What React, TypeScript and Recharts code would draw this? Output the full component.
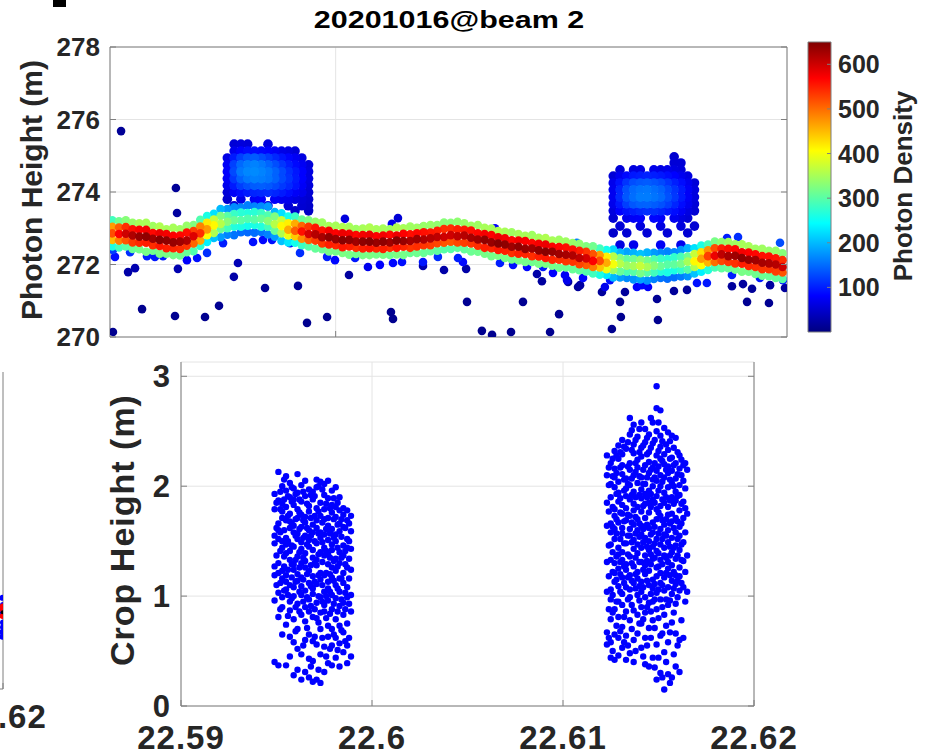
import React from 'react';
import {
  ScatterChart, Scatter, XAxis, YAxis, CartesianGrid,
  ReferenceArea, ReferenceLine,
} from 'recharts';

const FONT = "'Liberation Sans', Arial, Helvetica, sans-serif";
const INK = '#262626';
const FRAME = '#7f7f7f';
const GRID = '#e4e4e4';
const CROP_BLUE = '#0000ff';

// ---- top panel: photons coloured by photon density ----
const photonTicks = [270, 272, 274, 276, 278];
const topLatTicks = [22.6];
const densityTicks = [100, 200, 300, 400, 500, 600];
const DENSITY_MAX = 650;

const groundLat = [
  22.5901, 22.5904, 22.5907, 22.5910, 22.5913, 22.5916, 22.5919, 22.5922, 22.5925, 22.5928,
  22.5931, 22.5934, 22.5937, 22.5940, 22.5943, 22.5946, 22.5949, 22.5952, 22.5955, 22.5958,
  22.5961, 22.5964, 22.5967, 22.5970, 22.5973, 22.5976, 22.5979, 22.5982, 22.5985, 22.5988,
  22.5991, 22.5994, 22.5997, 22.6000, 22.6003, 22.6006, 22.6009, 22.6012, 22.6015, 22.6018,
  22.6021, 22.6024, 22.6027, 22.6030, 22.6033, 22.6036, 22.6039, 22.6042, 22.6045, 22.6048,
  22.6051, 22.6054, 22.6057, 22.6060, 22.6063, 22.6066, 22.6069, 22.6072, 22.6075, 22.6078,
  22.6081, 22.6084, 22.6087, 22.6090, 22.6093, 22.6096, 22.6099, 22.6102, 22.6105, 22.6108,
  22.6111, 22.6114, 22.6117, 22.6120, 22.6123, 22.6126, 22.6129, 22.6132, 22.6135, 22.6138,
  22.6141, 22.6144, 22.6147, 22.6150, 22.6153, 22.6156, 22.6159, 22.6162, 22.6165, 22.6168,
  22.6171, 22.6174, 22.6177, 22.6180, 22.6183, 22.6186, 22.6189, 22.6192, 22.6195, 22.6198,
];

// ground band, five layers from top edge to bottom edge
const bandTopH = [
  273.22, 273.19, 273.22, 273.15, 273.14, 273.15, 273.06, 273.05, 272.97, 273.01,
  272.97, 273.07, 273.09, 273.23, 273.34, 273.40, 273.53, 273.53, 273.58, 273.57,
  273.63, 273.60, 273.60, 273.60, 273.45, 273.41, 273.32, 273.32, 273.24, 273.22,
  273.18, 273.16, 273.06, 273.07, 273.03, 273.04, 272.98, 272.99, 273.02, 272.97,
  272.99, 272.97, 273.02, 273.00, 273.05, 273.01, 273.06, 273.09, 273.09, 273.16,
  273.15, 273.18, 273.14, 273.07, 273.09, 273.01, 272.99, 272.92, 272.90, 272.89,
  272.84, 272.79, 272.81, 272.74, 272.73, 272.66, 272.68, 272.63, 272.59, 272.57,
  272.50, 272.50, 272.44, 272.40, 272.41, 272.33, 272.35, 272.32, 272.29, 272.33,
  272.32, 272.32, 272.36, 272.34, 272.40, 272.45, 272.45, 272.52, 272.55, 272.63,
  272.62, 272.62, 272.56, 272.56, 272.50, 272.43, 272.43, 272.38, 272.38, 272.31,
];
const bandTopD = [
  285, 315, 330, 340, 350, 350, 345, 355, 350, 350,
  345, 340, 325, 295, 260, 225, 200, 180, 170, 165,
  162, 165, 170, 180, 200, 225, 255, 280, 310, 325,
  340, 345, 350, 350, 355, 350, 345, 350, 355, 350,
  350, 345, 355, 350, 345, 345, 340, 340, 335, 330,
  330, 335, 340, 345, 345, 350, 350, 355, 350, 345,
  350, 350, 345, 350, 355, 350, 345, 345, 340, 335,
  325, 315, 285, 255, 220, 200, 185, 195, 205, 195,
  180, 170, 165, 170, 175, 195, 225, 260, 290, 320,
  335, 345, 345, 350, 350, 345, 345, 340, 340, 330,
];
const bandUpH = [
  273.04, 273.02, 273.03, 272.97, 272.96, 272.96, 272.87, 272.86, 272.84, 272.79,
  272.80, 272.88, 272.92, 273.05, 273.15, 273.24, 273.34, 273.34, 273.39, 273.43,
  273.42, 273.45, 273.42, 273.36, 273.32, 273.22, 273.14, 273.12, 273.06, 273.04,
  273.01, 272.94, 272.93, 272.86, 272.86, 272.85, 272.81, 272.81, 272.82, 272.78,
  272.80, 272.82, 272.80, 272.85, 272.83, 272.86, 272.89, 272.88, 272.93, 272.98,
  272.99, 272.97, 272.96, 272.94, 272.86, 272.84, 272.81, 272.75, 272.72, 272.67,
  272.66, 272.65, 272.59, 272.57, 272.55, 272.49, 272.48, 272.47, 272.41, 272.38,
  272.35, 272.29, 272.26, 272.21, 272.22, 272.18, 272.15, 272.15, 272.13, 272.11,
  272.14, 272.16, 272.15, 272.20, 272.21, 272.22, 272.29, 272.34, 272.39, 272.45,
  272.44, 272.43, 272.42, 272.34, 272.33, 272.28, 272.23, 272.22, 272.17, 272.12,
];
const bandUpD = [
  470, 510, 540, 560, 570, 575, 565, 580, 575, 570,
  565, 560, 530, 485, 420, 370, 325, 300, 280, 270,
  265, 270, 280, 295, 325, 370, 415, 460, 505, 535,
  555, 560, 575, 570, 580, 575, 565, 575, 580, 570,
  575, 565, 580, 570, 560, 565, 560, 555, 550, 540,
  540, 550, 555, 560, 565, 575, 570, 580, 575, 565,
  575, 570, 565, 575, 580, 570, 565, 560, 560, 550,
  535, 515, 470, 415, 360, 325, 305, 315, 335, 315,
  295, 280, 270, 275, 290, 315, 370, 425, 475, 520,
  550, 560, 565, 575, 570, 565, 560, 560, 555, 540,
];
const bandMidH = [
  272.86, 272.84, 272.85, 272.80, 272.77, 272.77, 272.71, 272.68, 272.66, 272.61,
  272.63, 272.66, 272.78, 272.86, 272.97, 273.08, 273.12, 273.18, 273.22, 273.22,
  273.26, 273.24, 273.26, 273.20, 273.11, 273.06, 272.96, 272.93, 272.91, 272.84,
  272.83, 272.75, 272.75, 272.70, 272.67, 272.68, 272.63, 272.63, 272.63, 272.60,
  272.63, 272.61, 272.66, 272.65, 272.65, 272.70, 272.69, 272.72, 272.76, 272.76,
  272.81, 272.78, 272.80, 272.74, 272.69, 272.68, 272.61, 272.58, 272.55, 272.49,
  272.49, 272.43, 272.44, 272.39, 272.35, 272.35, 272.29, 272.27, 272.25, 272.18,
  272.17, 272.10, 272.10, 272.05, 272.01, 272.02, 271.97, 271.96, 271.96, 271.93,
  271.97, 271.95, 272.00, 272.00, 272.02, 272.08, 272.09, 272.16, 272.23, 272.24,
  272.28, 272.23, 272.24, 272.18, 272.13, 272.12, 272.05, 272.03, 272.00, 271.93,
];
const bandMidD = [
  520, 570, 600, 620, 635, 640, 630, 645, 640, 635,
  630, 620, 590, 540, 470, 410, 360, 330, 310, 300,
  295, 300, 310, 330, 360, 410, 460, 510, 560, 595,
  615, 625, 640, 635, 645, 640, 630, 640, 645, 635,
  640, 630, 645, 635, 625, 630, 620, 615, 610, 600,
  600, 610, 615, 625, 630, 640, 635, 645, 640, 630,
  640, 635, 630, 640, 645, 635, 630, 625, 620, 610,
  595, 570, 520, 460, 400, 360, 340, 350, 370, 350,
  330, 310, 300, 305, 320, 350, 410, 470, 530, 580,
  610, 625, 630, 640, 635, 630, 625, 620, 615, 600,
];
const bandLowH = [
  272.68, 272.66, 272.67, 272.61, 272.60, 272.60, 272.53, 272.51, 272.45, 272.45,
  272.43, 272.52, 272.58, 272.66, 272.81, 272.87, 272.98, 273.00, 273.04, 273.04,
  273.07, 273.09, 273.04, 273.04, 272.93, 272.86, 272.80, 272.78, 272.71, 272.68,
  272.66, 272.58, 272.55, 272.53, 272.48, 272.50, 272.46, 272.44, 272.45, 272.44,
  272.43, 272.46, 272.46, 272.49, 272.46, 272.50, 272.53, 272.53, 272.59, 272.60,
  272.63, 272.61, 272.60, 272.58, 272.52, 272.46, 272.45, 272.40, 272.38, 272.32,
  272.30, 272.29, 272.23, 272.22, 272.18, 272.13, 272.13, 272.09, 272.08, 272.01,
  271.99, 271.93, 271.92, 271.87, 271.85, 271.81, 271.80, 271.80, 271.76, 271.78,
  271.78, 271.80, 271.79, 271.84, 271.85, 271.86, 271.93, 271.98, 272.06, 272.07,
  272.10, 272.07, 272.03, 272.02, 271.96, 271.93, 271.87, 271.87, 271.81, 271.78,
];
const bandLowD = [
  450, 490, 515, 535, 545, 550, 540, 555, 550, 545,
  540, 535, 505, 465, 405, 355, 310, 285, 265, 260,
  255, 260, 265, 285, 310, 355, 395, 440, 480, 510,
  530, 535, 550, 545, 555, 550, 540, 550, 555, 545,
  550, 540, 555, 545, 535, 540, 535, 530, 525, 515,
  515, 525, 530, 535, 540, 550, 545, 555, 550, 540,
  550, 545, 540, 550, 555, 545, 540, 535, 535, 525,
  510, 490, 445, 395, 345, 310, 290, 300, 320, 300,
  285, 265, 260, 260, 275, 300, 355, 405, 455, 500,
  525, 535, 540, 550, 545, 540, 535, 535, 530, 515,
];
const bandBotH = [
  272.50, 272.47, 272.50, 272.43, 272.42, 272.35, 272.38, 272.30, 272.30, 272.26,
  272.25, 272.34, 272.37, 272.51, 272.62, 272.73, 272.75, 272.82, 272.81, 272.89,
  272.89, 272.88, 272.90, 272.83, 272.77, 272.65, 272.61, 272.60, 272.53, 272.50,
  272.44, 272.42, 272.36, 272.36, 272.32, 272.27, 272.29, 272.26, 272.26, 272.28,
  272.27, 272.26, 272.28, 272.26, 272.32, 272.32, 272.32, 272.37, 272.38, 272.42,
  272.43, 272.46, 272.42, 272.36, 272.35, 272.30, 272.23, 272.24, 272.18, 272.14,
  272.12, 272.07, 272.07, 272.02, 272.02, 271.97, 271.91, 271.92, 271.87, 271.84,
  271.81, 271.75, 271.72, 271.71, 271.64, 271.64, 271.63, 271.59, 271.59, 271.56,
  271.60, 271.63, 271.61, 271.65, 271.67, 271.68, 271.75, 271.80, 271.85, 271.92,
  271.90, 271.90, 271.86, 271.80, 271.80, 271.74, 271.69, 271.68, 271.63, 271.60,
];
const bandBotD = [
  260, 285, 300, 310, 318, 320, 315, 322, 320, 318,
  315, 310, 295, 270, 235, 205, 180, 165, 155, 150,
  148, 150, 155, 165, 180, 205, 230, 255, 280, 298,
  308, 312, 320, 318, 322, 320, 315, 320, 322, 318,
  320, 315, 322, 318, 312, 315, 310, 308, 305, 300,
  300, 305, 308, 312, 315, 320, 318, 322, 320, 315,
  320, 318, 315, 320, 322, 318, 315, 312, 310, 305,
  298, 285, 260, 230, 200, 180, 170, 175, 185, 175,
  165, 155, 150, 152, 160, 175, 205, 235, 265, 290,
  305, 312, 315, 320, 318, 315, 312, 310, 308, 300,
];

// canopy photons: density per (height row, lat column), 0 = no photon
const tree1Lat = [22.5952, 22.5955, 22.5958, 22.5961, 22.5964, 22.5967, 22.5970, 22.5973, 22.5976, 22.5979, 22.5982, 22.5985, 22.5988];
const tree1H = [275.32, 275.13, 274.94, 274.75, 274.56, 274.37, 274.18, 273.99, 273.80, 273.62, 273.48];
const tree1D = [
  [0, 55, 58, 56, 0, 0, 60, 0, 0, 0, 0, 0, 0],
  [0, 70, 82, 88, 88, 85, 82, 76, 66, 62, 56, 0, 0],
  [64, 97, 122, 136, 140, 130, 118, 106, 94, 84, 75, 62, 0],
  [76, 122, 148, 160, 164, 158, 145, 130, 115, 99, 86, 74, 58],
  [80, 128, 157, 167, 169, 165, 157, 144, 128, 110, 95, 81, 62],
  [76, 116, 143, 157, 162, 160, 155, 144, 128, 113, 97, 81, 62],
  [69, 97, 120, 132, 139, 141, 137, 128, 117, 106, 93, 77, 58],
  [56, 77, 88, 97, 104, 107, 109, 104, 97, 88, 77, 69, 53],
  [50, 0, 65, 0, 76, 81, 0, 77, 72, 69, 62, 56, 50],
  [0, 53, 0, 0, 56, 0, 60, 0, 0, 56, 0, 53, 48],
  [0, 0, 0, 0, 0, 0, 0, 0, 0, 0, 48, 0, 44],
];
const tree2Lat = [22.6123, 22.6126, 22.6129, 22.6132, 22.6135, 22.6138, 22.6141, 22.6144, 22.6147, 22.6150, 22.6153, 22.6156, 22.6159];
const tree2H = [274.97, 274.80, 274.61, 274.44, 274.25, 274.06, 273.86, 273.67, 273.48, 273.28, 273.06, 272.87, 272.54];
const tree2D = [
  [0, 0, 0, 0, 0, 0, 0, 0, 0, 51, 0, 0, 0],
  [0, 0, 0, 0, 0, 0, 0, 0, 0, 55, 56, 0, 0],
  [0, 56, 0, 60, 63, 0, 67, 63, 67, 62, 58, 0, 0],
  [56, 72, 86, 95, 99, 102, 99, 95, 88, 81, 72, 62, 0],
  [69, 92, 114, 130, 137, 139, 134, 127, 114, 100, 88, 72, 56],
  [72, 104, 132, 148, 155, 157, 151, 143, 128, 113, 97, 77, 60],
  [72, 107, 136, 151, 160, 160, 155, 148, 132, 116, 97, 77, 60],
  [69, 95, 120, 136, 143, 144, 139, 132, 120, 104, 88, 72, 56],
  [60, 81, 92, 100, 107, 111, 111, 104, 95, 88, 76, 63, 53],
  [53, 0, 69, 76, 79, 0, 84, 79, 0, 72, 63, 56, 0],
  [0, 56, 0, 0, 60, 0, 0, 63, 0, 0, 60, 0, 53],
  [48, 0, 53, 0, 0, 56, 0, 0, 56, 0, 0, 53, 0],
  [0, 63, 0, 70, 0, 0, 0, 75, 0, 0, 70, 0, 0],
];

// scattered noise photons and band fringe: [lat, height, density]
const sparsePhotons = [
  [22.59049, 275.68, 15], [22.59013, 270.14, 10], [22.59292, 274.11, 15], [22.59297, 273.42, 20],
  [22.59142, 270.77, 10], [22.59288, 270.58, 10], [22.59421, 270.55, 10], [22.59483, 270.86, 12],
  [22.59080, 271.79, 25], [22.59111, 271.90, 30], [22.59301, 271.88, 30], [22.59567, 272.04, 35],
  [22.59549, 271.66, 25], [22.59687, 271.35, 15], [22.59833, 271.41, 15], [22.59873, 270.39, 10],
  [22.59962, 270.55, 10], [22.60059, 271.71, 20], [22.60245, 270.69, 10], [22.60254, 270.50, 10],
  [22.60582, 270.97, 12], [22.60648, 270.17, 10], [22.60693, 270.06, 10], [22.60777, 270.14, 10],
  [22.60830, 270.97, 12], [22.60950, 270.14, 10], [22.60990, 270.63, 12], [22.60480, 271.85, 25],
  [22.60387, 271.96, 30], [22.60578, 271.88, 25], [22.60892, 271.74, 25], [22.60914, 271.54, 20],
  [22.61030, 271.52, 20], [22.61074, 271.38, 18], [22.61224, 270.22, 10], [22.61264, 270.55, 10],
  [22.61260, 270.97, 12], [22.61424, 271.05, 14], [22.61428, 270.47, 10], [22.61499, 271.27, 16],
  [22.61557, 271.30, 16], [22.61823, 270.97, 12], [22.61920, 270.94, 12], [22.61756, 271.40, 18],
  [22.61805, 271.46, 20], [22.61845, 271.33, 16], [22.61925, 271.43, 20], [22.61991, 271.35, 18],
  [22.61083, 271.43, 22], [22.61180, 271.24, 18], [22.61282, 271.24, 18],
  [22.60041, 273.26, 60], [22.60276, 273.28, 55], [22.60249, 273.12, 70], [22.60387, 273.03, 90],
  [22.60706, 273.00, 80], [22.61734, 272.73, 100], [22.61783, 272.76, 110], [22.61969, 272.60, 130],
  [22.61069, 272.60, 160],
  [22.59013, 272.40, 120], [22.59022, 272.21, 90], [22.59089, 272.34, 110], [22.59164, 272.23, 100],
  [22.59199, 272.21, 95], [22.59235, 272.23, 100], [22.59341, 272.12, 80], [22.59386, 272.18, 90],
  [22.59430, 272.32, 110], [22.59501, 272.59, 100], [22.59634, 272.62, 90], [22.59678, 272.68, 85],
  [22.59718, 272.68, 90], [22.59798, 272.59, 100], [22.59842, 272.32, 110], [22.59962, 272.21, 100],
  [22.59997, 272.12, 85], [22.60086, 272.18, 95], [22.60143, 271.93, 70], [22.60196, 271.99, 80],
  [22.60254, 272.04, 85], [22.60294, 272.07, 90], [22.60387, 272.07, 95], [22.60453, 272.21, 110],
  [22.60542, 272.18, 100], [22.60564, 272.07, 85], [22.60728, 272.04, 100], [22.60786, 271.99, 90],
  [22.60848, 271.93, 85], [22.60919, 271.93, 95], [22.60963, 271.77, 80], [22.61016, 271.71, 75],
  [22.61025, 271.57, 70], [22.61096, 271.63, 85], [22.61193, 271.38, 70], [22.61216, 271.57, 90],
  [22.61335, 271.38, 80], [22.61357, 271.43, 85], [22.61384, 271.38, 80], [22.61601, 271.49, 90],
  [22.61645, 271.49, 95], [22.61756, 271.71, 100], [22.61880, 271.63, 95], [22.61982, 271.57, 100],
];

// ---- bottom panel: crop height ----
const cropTicks = [0, 1, 2, 3];
const latTicks = [22.59, 22.6, 22.61, 22.62];
const crop1Lat = [22.5949, 22.5951, 22.5953, 22.5955, 22.5957, 22.5959, 22.5961, 22.5963, 22.5965, 22.5967, 22.5969,
  22.5971, 22.5973, 22.5975, 22.5977, 22.5979, 22.5981, 22.5983, 22.5985, 22.5987, 22.5989];
const crop1H = [
  [0.40, 0.96, 1.19, 1.27, 1.48, 1.55, 1.79, 1.93],
  [0.37, 0.81, 1.03, 1.21, 1.30, 1.52, 1.60, 1.66, 1.87, 2.13],
  [0.65, 0.90, 0.99, 1.16, 1.23, 1.44, 1.50, 1.71, 1.77, 1.84, 2.00],
  [0.37, 0.74, 1.06, 1.13, 1.19, 1.39, 1.47, 1.53, 1.69, 1.81, 1.96, 2.09],
  [0.45, 0.63, 0.87, 0.95, 1.10, 1.33, 1.41, 1.62, 1.68, 1.75, 1.90, 2.03],
  [0.28, 0.58, 0.79, 1.00, 1.08, 1.24, 1.29, 1.45, 1.58, 1.64, 1.83, 1.88, 1.98],
  [0.33, 0.52, 0.70, 0.93, 1.14, 1.20, 1.36, 1.52, 1.57, 1.71, 1.79, 1.94, 2.11],
  [0.24, 0.47, 0.83, 1.01, 1.09, 1.17, 1.30, 1.43, 1.49, 1.63, 1.74, 1.86, 2.01],
  [0.31, 0.60, 0.77, 0.90, 1.05, 1.26, 1.32, 1.39, 1.55, 1.67, 1.72, 1.91, 2.05],
  [0.26, 0.43, 0.65, 0.86, 0.97, 1.12, 1.23, 1.45, 1.51, 1.60, 1.77, 1.82, 1.97],
  [0.22, 0.41, 0.59, 0.81, 1.02, 1.07, 1.18, 1.35, 1.42, 1.58, 1.65, 1.88, 1.95],
  [0.24, 0.56, 0.80, 0.94, 1.11, 1.28, 1.33, 1.48, 1.62, 1.69, 1.80, 1.99, 2.06],
  [0.21, 0.47, 0.70, 0.85, 0.99, 1.15, 1.21, 1.40, 1.53, 1.58, 1.73, 1.85, 2.04],
  [0.31, 0.54, 0.86, 0.92, 1.04, 1.19, 1.37, 1.44, 1.56, 1.70, 1.79, 1.92, 2.02],
  [0.39, 0.63, 0.73, 0.96, 1.07, 1.13, 1.29, 1.38, 1.51, 1.64, 1.71, 1.89, 2.05],
  [0.37, 0.55, 0.70, 0.88, 1.01, 1.17, 1.26, 1.42, 1.47, 1.61, 1.76, 1.83, 1.96],
  [0.44, 0.62, 0.79, 0.98, 1.10, 1.23, 1.34, 1.50, 1.56, 1.72, 1.81, 1.99],
  [0.36, 0.57, 0.73, 0.91, 1.04, 1.16, 1.30, 1.40, 1.59, 1.66, 1.78, 1.90],
  [0.49, 0.67, 0.83, 0.94, 1.12, 1.21, 1.37, 1.46, 1.63, 1.74, 1.80],
  [0.39, 0.55, 0.75, 0.99, 1.08, 1.26, 1.44, 1.52, 1.69, 1.78],
  [0.45, 0.86, 1.01, 1.24, 1.43, 1.59, 1.73],
];
const crop1bLat = [22.5950, 22.5952, 22.5954, 22.5956, 22.5958, 22.5960, 22.5962, 22.5964, 22.5966, 22.5968,
  22.5970, 22.5972, 22.5974, 22.5976, 22.5978, 22.5980, 22.5982, 22.5984, 22.5986, 22.5988];
const crop1bH = [
  [1.10, 1.37, 1.62, 1.85],
  [0.88, 1.12, 1.41, 1.58, 1.79, 1.95],
  [1.05, 1.27, 1.36, 1.60, 1.88, 2.06],
  [0.82, 1.01, 1.24, 1.50, 1.73, 1.91],
  [0.98, 1.17, 1.29, 1.46, 1.66, 1.86, 1.99],
  [0.68, 0.90, 1.13, 1.33, 1.55, 1.70, 1.93],
  [0.86, 1.04, 1.26, 1.40, 1.61, 1.76, 1.88],
  [0.55, 0.95, 1.15, 1.35, 1.53, 1.69, 1.95],
  [0.71, 0.99, 1.20, 1.47, 1.62, 1.84],
  [0.36, 0.91, 1.09, 1.28, 1.55, 1.71, 1.92],
  [0.63, 0.88, 1.13, 1.30, 1.50, 1.73, 1.91],
  [0.33, 0.76, 1.00, 1.19, 1.38, 1.57, 1.77, 2.00],
  [0.62, 0.95, 1.10, 1.31, 1.49, 1.67, 1.97],
  [0.45, 0.80, 1.00, 1.21, 1.41, 1.61, 1.84],
  [0.52, 0.84, 1.04, 1.20, 1.35, 1.57, 1.80],
  [0.65, 0.93, 1.14, 1.32, 1.53, 1.70, 1.89],
  [0.51, 0.86, 1.07, 1.27, 1.44, 1.65, 1.85],
  [0.69, 0.97, 1.16, 1.35, 1.54, 1.70],
  [0.59, 0.88, 1.03, 1.29, 1.41, 1.62],
  [0.62, 0.93, 1.16, 1.34, 1.50, 1.66],
];
const crop2Lat = [22.6123, 22.6125, 22.6127, 22.6129, 22.6131, 22.6133, 22.6135, 22.6137, 22.6139, 22.6141, 22.6143,
  22.6145, 22.6147, 22.6149, 22.6151, 22.6153, 22.6155, 22.6157, 22.6159, 22.6161, 22.6163, 22.6165];
const crop2H = [
  [0.56, 0.67, 1.04, 1.31, 1.64, 1.85, 2.10, 2.28],
  [0.44, 0.58, 0.79, 0.97, 1.06, 1.33, 1.47, 1.58, 1.66, 1.90, 2.02, 2.21],
  [0.42, 0.65, 0.88, 1.13, 1.21, 1.30, 1.52, 1.61, 1.73, 1.79, 1.99, 2.08, 2.16, 2.32],
  [0.46, 0.62, 0.81, 0.95, 1.09, 1.25, 1.38, 1.44, 1.67, 1.86, 1.94, 2.04, 2.25, 2.37],
  [0.53, 0.72, 0.92, 1.02, 1.17, 1.33, 1.40, 1.57, 1.62, 1.75, 1.83, 2.11, 2.19, 2.29, 2.42],
  [0.42, 0.64, 0.86, 1.08, 1.24, 1.29, 1.48, 1.69, 1.80, 1.91, 1.98, 2.07, 2.34],
  [0.48, 0.78, 0.99, 1.06, 1.19, 1.36, 1.55, 1.61, 1.73, 1.88, 2.01, 2.15, 2.21, 2.47, 2.62],
  [0.40, 0.60, 0.87, 1.12, 1.27, 1.43, 1.51, 1.65, 1.78, 1.84, 1.95, 2.10, 2.30, 2.38, 2.56],
  [0.66, 0.83, 1.01, 1.16, 1.22, 1.39, 1.47, 1.60, 1.70, 1.81, 2.03, 2.17, 2.24, 2.45],
  [0.53, 0.75, 0.90, 1.04, 1.13, 1.31, 1.44, 1.56, 1.64, 1.77, 1.89, 1.97, 2.08, 2.27, 2.35, 2.58],
  [0.38, 0.62, 0.85, 0.99, 1.20, 1.28, 1.37, 1.53, 1.71, 1.84, 1.93, 2.02, 2.19, 2.40, 2.52],
  [0.36, 0.71, 0.94, 1.10, 1.23, 1.42, 1.50, 1.62, 1.76, 1.85, 1.96, 2.12, 2.22, 2.31, 2.47],
  [0.44, 0.78, 0.95, 1.07, 1.15, 1.34, 1.45, 1.58, 1.67, 1.88, 2.00, 2.06, 2.17, 2.39, 2.58],
  [0.24, 0.56, 0.88, 1.03, 1.18, 1.26, 1.41, 1.52, 1.70, 1.79, 1.91, 2.05, 2.14, 2.28, 2.50, 2.71, 2.91],
  [0.30, 0.64, 0.97, 1.12, 1.21, 1.33, 1.47, 1.61, 1.73, 1.82, 2.00, 2.10, 2.25, 2.36, 2.46, 2.69],
  [0.15, 0.49, 0.83, 1.05, 1.17, 1.37, 1.44, 1.56, 1.65, 1.85, 1.94, 2.08, 2.20, 2.29, 2.53],
  [0.29, 0.58, 0.92, 1.08, 1.25, 1.31, 1.49, 1.60, 1.74, 1.81, 1.99, 2.12, 2.18, 2.33, 2.49],
  [0.26, 0.76, 1.02, 1.14, 1.28, 1.40, 1.53, 1.68, 1.75, 1.90, 2.03, 2.14, 2.26, 2.46],
  [0.36, 0.66, 0.93, 1.11, 1.19, 1.34, 1.46, 1.58, 1.71, 1.87, 1.95, 2.07, 2.21, 2.44],
  [0.31, 0.60, 1.05, 1.18, 1.26, 1.42, 1.55, 1.63, 1.78, 1.92, 2.01, 2.16, 2.28],
  [0.62, 1.08, 1.32, 1.49, 1.71, 1.86, 2.05, 2.19],
  [1.04, 1.37, 1.75, 2.15],
];
const crop2bLat = [22.6124, 22.6126, 22.6128, 22.6130, 22.6132, 22.6134, 22.6136, 22.6138, 22.6140, 22.6142, 22.6144,
  22.6146, 22.6148, 22.6150, 22.6152, 22.6154, 22.6156, 22.6158, 22.6160, 22.6162, 22.6164];
const crop2bH = [
  [0.62, 0.88, 1.18, 1.46, 1.77, 2.01, 2.17],
  [0.50, 0.85, 1.01, 1.22, 1.40, 1.63, 1.81, 2.09, 2.25],
  [0.73, 0.95, 1.15, 1.36, 1.57, 1.70, 1.93, 2.12, 2.28],
  [0.68, 1.04, 1.20, 1.31, 1.52, 1.76, 1.89, 2.17, 2.31],
  [0.58, 0.81, 1.12, 1.27, 1.48, 1.68, 1.96, 2.06, 2.36],
  [0.55, 0.97, 1.17, 1.38, 1.55, 1.74, 2.02, 2.18, 2.40],
  [0.70, 0.92, 1.14, 1.30, 1.49, 1.67, 1.92, 2.07, 2.33, 2.51],
  [0.50, 1.07, 1.20, 1.35, 1.57, 1.72, 1.90, 2.13, 2.21, 2.42],
  [0.75, 0.96, 1.09, 1.31, 1.54, 1.66, 1.92, 2.09, 2.31, 2.52],
  [0.45, 0.79, 1.08, 1.24, 1.49, 1.61, 1.82, 2.02, 2.15, 2.37],
  [0.55, 0.90, 1.14, 1.32, 1.45, 1.65, 1.90, 2.08, 2.29, 2.44],
  [0.62, 0.86, 1.02, 1.29, 1.38, 1.56, 1.81, 1.93, 2.15, 2.35, 2.62],
  [0.35, 0.71, 0.97, 1.11, 1.35, 1.48, 1.63, 1.85, 2.08, 2.21, 2.42],
  [0.44, 0.80, 1.06, 1.27, 1.39, 1.57, 1.76, 1.96, 2.18, 2.32, 2.58],
  [0.26, 0.66, 0.90, 1.10, 1.29, 1.52, 1.69, 1.88, 2.04, 2.23, 2.41],
  [0.40, 0.73, 0.97, 1.21, 1.35, 1.55, 1.70, 1.90, 2.15, 2.38],
  [0.21, 0.67, 0.96, 1.19, 1.37, 1.45, 1.66, 1.87, 2.06, 2.25, 2.41],
  [0.47, 0.85, 1.07, 1.22, 1.44, 1.62, 1.84, 2.00, 2.19, 2.35],
  [0.55, 0.99, 1.14, 1.37, 1.52, 1.68, 1.91, 2.11, 2.31],
  [0.78, 1.12, 1.33, 1.47, 1.66, 1.84, 2.10, 2.24],
  [0.95, 1.22, 1.58, 1.80, 1.98, 2.21],
];

// neighbouring panel, only its right edge is inside the figure
const edgeTicks = [0, 1, 2, 3, 4];
const edgeLatTicks = [22.62];
const edgeBlue = [[22.61995, 0.72], [22.62, 0.84], [22.61992, 0.95], [22.62, 1.06], [22.61996, 1.15], [22.61994, 0.66], [22.62, 0.78], [22.61998, 1.0]];
const edgeRed = [[22.61997, 0.92], [22.62, 1.0], [22.61995, 1.04]];
const edgeBlack = [[22.61997, 0.97]];

function jet(v: number) {
  const t = Math.max(0, Math.min(1, v / DENSITY_MAX));
  const ch = (c: number) => Math.round(255 * Math.max(0, Math.min(1, 1.5 - Math.abs(4 * t - c))));
  return `rgb(${ch(3)},${ch(2)},${ch(1)})`;
}

type Photon = { lat: number; h: number; d: number };
const groundPhotons: Photon[] = [];
[[bandTopH, bandTopD], [bandUpH, bandUpD], [bandMidH, bandMidD], [bandLowH, bandLowD], [bandBotH, bandBotD]]
  .forEach(([hs, ds]) => groundLat.forEach((lat, i) => groundPhotons.push({ lat, h: hs[i], d: ds[i] })));
sparsePhotons.forEach(([lat, h, d]) => groundPhotons.push({ lat, h, d }));
groundPhotons.sort((a, b) => a.d - b.d);

const canopyPhotons: Photon[] = [];
const addGrid = (lats: number[], hs: number[], grid: number[][]) =>
  grid.forEach((row, r) => row.forEach((d, c) => { if (d > 0) canopyPhotons.push({ lat: lats[c], h: hs[r], d }); }));
addGrid(tree1Lat, tree1H, tree1D);
addGrid(tree2Lat, tree2H, tree2D);
canopyPhotons.sort((a, b) => a.d - b.d);

const cropPoints: { lat: number; h: number }[] = [];
([[crop1Lat, crop1H], [crop1bLat, crop1bH], [crop2Lat, crop2H], [crop2bLat, crop2bH]] as [number[], number[][]][])
  .forEach(([lats, cols]) => lats.forEach((lat, i) => cols[i].forEach((h) => cropPoints.push({ lat, h }))));

const toPts = (arr: number[][]) => arr.map(([lat, h]) => ({ lat, h }));

const TOP_PLOT_W = 677;
const BOT_PLOT_W = 573;

const label = (size: number) => ({
  fontSize: size, fontWeight: 700, fill: INK, fontFamily: FONT,
});

function YTick({ x, y, payload, size, gap, span }: any) {
  const edge = x + gap;
  return (
    <g>
      <text x={x} y={y} dy="0.36em" textAnchor="end" {...label(size)}>{payload.value}</text>
      <line x1={edge} x2={edge + 6} y1={y} y2={y} stroke={FRAME} />
      <line x1={edge + span} x2={edge + span - 6} y1={y} y2={y} stroke={FRAME} />
    </g>
  );
}

function LatTick({ x, y, payload, offset, showText }: any) {
  return (
    <g>
      <line x1={x} x2={x} y1={y} y2={y - 6} stroke={FRAME} />
      {showText && (
        <text x={x} y={y + offset} dy="0.36em" textAnchor="middle" letterSpacing={1} {...label(33)}>
          {payload.value}
        </text>
      )}
    </g>
  );
}

function DensityTick({ x, y, payload }: any) {
  return (
    <g>
      <line x1={x - 7} x2={x - 11} y1={y} y2={y} stroke={FRAME} />
      <text x={x} y={y} dy="0.36em" textAnchor="start" {...label(25)}>{payload.value}</text>
    </g>
  );
}

const GroundDot = (p: any) => <circle cx={p.cx} cy={p.cy} r={4.3} fill={jet(p.payload.d)} />;
const CanopyDot = (p: any) => <circle cx={p.cx} cy={p.cy} r={4.8} fill={jet(p.payload.d)} />;
const CropDot = (p: any) => <circle cx={p.cx} cy={p.cy} r={3.2} fill={CROP_BLUE} />;
const dotOf = (color: string, r: number) => (p: any) => <circle cx={p.cx} cy={p.cy} r={r} fill={color} />;

const textStyle = (size: number, rotate: boolean): React.CSSProperties => ({
  position: 'absolute', fontFamily: FONT, fontWeight: 700, fontSize: size, color: INK,
  whiteSpace: 'nowrap', lineHeight: 1,
  transform: `translate(-50%, -50%)${rotate ? ' rotate(-90deg)' : ''}`,
});

export default function App() {
  return (
    <div style={{ position: 'absolute', left: 0, top: 0, width: 935, height: 755, overflow: 'hidden', background: '#fff' }}>
      {/* neighbouring panel edge */}
      <div style={{ position: 'absolute', left: -296, top: 0 }}>
        <ScatterChart width={345} height={755} margin={{ top: 372, right: 46, bottom: 0, left: 0 }}>
          <XAxis type="number" dataKey="lat" domain={[22.59, 22.62]} ticks={edgeLatTicks} height={66} interval={0}
            axisLine={{ stroke: FRAME }} tickLine={false} tickSize={0} tickMargin={0} allowDataOverflow
            tick={(p: any) => <LatTick {...p} offset={27} showText />} />
          <YAxis type="number" dataKey="h" orientation="right" domain={[0, 4]} ticks={edgeTicks} width={0} interval={0}
            axisLine={{ stroke: FRAME }} tickLine={false} tickSize={0} tickMargin={0} allowDataOverflow
            tick={(p: any) => <line x1={p.x} x2={p.x - 5} y1={p.y} y2={p.y} stroke={FRAME} />} />
          <ReferenceLine x={22.62} stroke={FRAME} />
          <Scatter data={toPts(edgeBlue)} isAnimationActive={false} shape={dotOf(CROP_BLUE, 3)} />
          <Scatter data={toPts(edgeRed)} isAnimationActive={false} shape={dotOf('#ff0000', 3)} />
          <Scatter data={toPts(edgeBlack)} isAnimationActive={false} shape={dotOf('#000000', 2)} />
        </ScatterChart>
      </div>

      {/* photon panel */}
      <div style={{ position: 'absolute', left: 0, top: 0 }}>
        <ScatterChart width={800} height={360} margin={{ top: 47, right: 13, bottom: 0, left: 0 }}>
          <CartesianGrid stroke={GRID} />
          <XAxis type="number" dataKey="lat" domain={[22.59, 22.62]} ticks={topLatTicks} height={23} interval={0}
            axisLine={false} tickLine={false} tickSize={0} tickMargin={0} allowDataOverflow
            tick={(p: any) => <LatTick {...p} />} />
          <YAxis type="number" dataKey="h" domain={[270, 278]} ticks={photonTicks} width={110} interval={0}
            axisLine={false} tickLine={false} tickSize={0} tickMargin={10} allowDataOverflow
            tick={(p: any) => <YTick {...p} size={26} gap={10} span={TOP_PLOT_W} />} />
          <ReferenceArea x1={22.59} x2={22.62} y1={270} y2={278} fill="none" stroke={FRAME} />
          <Scatter data={canopyPhotons} isAnimationActive={false} shape={CanopyDot} />
          <Scatter data={groundPhotons} isAnimationActive={false} shape={GroundDot} />
        </ScatterChart>
      </div>

      {/* colour bar */}
      <div style={{ position: 'absolute', left: 780, top: 0 }}>
        <ScatterChart width={155} height={360} margin={{ top: 42, right: 0, bottom: 28, left: 28 }}>
          <defs>
            <linearGradient id="jetBar" x1="0" y1="1" x2="0" y2="0">
              <stop offset="0" stopColor="#000080" />
              <stop offset="0.125" stopColor="#0000ff" />
              <stop offset="0.375" stopColor="#00ffff" />
              <stop offset="0.625" stopColor="#ffff00" />
              <stop offset="0.875" stopColor="#ff0000" />
              <stop offset="1" stopColor="#800000" />
            </linearGradient>
          </defs>
          <XAxis type="number" dataKey="x" domain={[0, 1]} hide />
          <YAxis type="number" dataKey="d" orientation="right" domain={[0, DENSITY_MAX]} ticks={densityTicks} width={104}
            interval={0} axisLine={false} tickLine={false} tickSize={0} tickMargin={7} allowDataOverflow
            tick={(p: any) => <DensityTick {...p} />} />
          <ReferenceArea x1={0} x2={1} y1={0} y2={DENSITY_MAX} fill="url(#jetBar)" fillOpacity={1} stroke={FRAME} />
          <Scatter data={densityTicks.map((d) => ({ x: 0.5, d }))} isAnimationActive={false} shape={() => <g />} />
        </ScatterChart>
      </div>

      {/* crop height panel */}
      <div style={{ position: 'absolute', left: 0, top: 340 }}>
        <ScatterChart width={800} height={415} margin={{ top: 22, right: 46, bottom: 0, left: 0 }}>
          <CartesianGrid stroke={GRID} />
          <XAxis type="number" dataKey="lat" domain={[22.59, 22.62]} ticks={latTicks} height={49} interval={0}
            axisLine={{ stroke: FRAME }} tickLine={false} tickSize={0} tickMargin={0} allowDataOverflow
            tick={(p: any) => <LatTick {...p} offset={31} showText />} />
          <YAxis type="number" dataKey="h" domain={[0, 3.13]} ticks={cropTicks} width={181} interval={0}
            axisLine={{ stroke: FRAME }} tickLine={false} tickSize={0} tickMargin={11} allowDataOverflow
            tick={(p: any) => <YTick {...p} size={31} gap={11} span={BOT_PLOT_W} />} />
          <ReferenceLine x={22.62} stroke={FRAME} />
          <Scatter data={cropPoints} isAnimationActive={false} shape={CropDot} />
        </ScatterChart>
      </div>

      <div style={{ position: 'absolute', left: 53, top: 0, width: 13, height: 7, background: '#000' }} />
      <div style={{ ...textStyle(24, false), left: 449, top: 20, color: '#000', transform: 'translate(-50%, -50%) scaleX(1.27)' }}>
        20201016@beam 2
      </div>
      <div style={{ ...textStyle(30, true), left: 32, top: 190 }}>Photon Height (m)</div>
      <div style={{ ...textStyle(34, true), left: 122, top: 530, letterSpacing: 1 }}>Crop Height (m)</div>
      <div style={{ ...textStyle(26, true), left: 903, top: 186 }}>Photon Density</div>
    </div>
  );
}
